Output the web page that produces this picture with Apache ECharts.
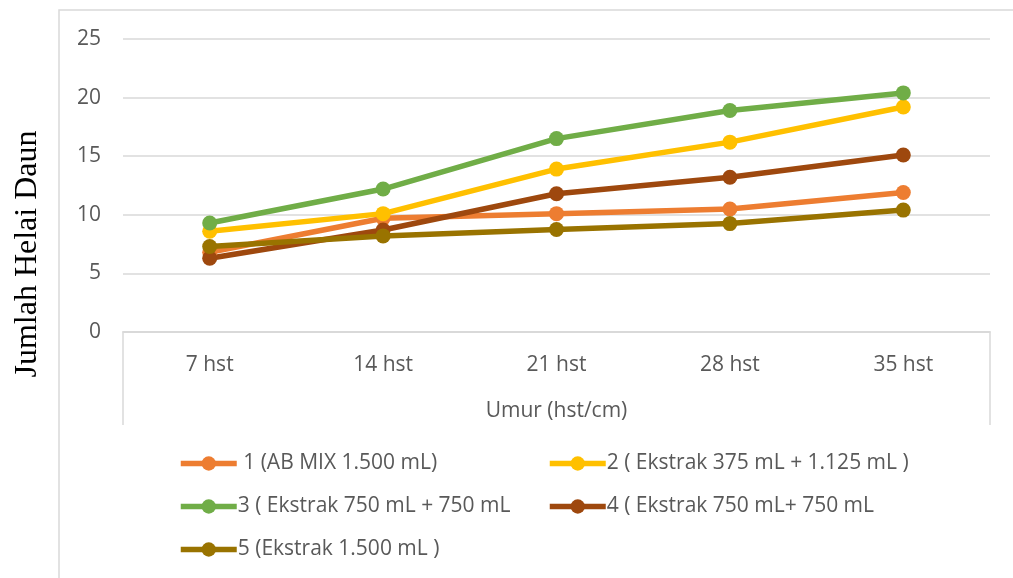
<!DOCTYPE html>
<html>
<head>
<meta charset="utf-8">
<script src="https://cdn.jsdelivr.net/npm/echarts@6/dist/echarts.min.js"></script>
<style>
  html, body { margin: 0; padding: 0; background: #fff; }
  #chart { width: 1013px; height: 578px; }
</style>
</head>
<body>
<div id="chart"></div>
<script>
// Leaf count per treatment across plant age
const categories = ['7 hst', '14 hst', '21 hst', '28 hst', '35 hst'];
const seriesNames = [
  ' 1 (AB MIX 1.500 mL)',
  '2 ( Ekstrak 375 mL + 1.125 mL )',
  '3 ( Ekstrak 750 mL + 750 mL',
  '4 ( Ekstrak 750 mL+ 750 mL',
  '5 (Ekstrak 1.500 mL )'
];
const s1 = [6.8, 9.7, 10.1, 10.5, 11.9];
const s2 = [8.6, 10.1, 13.9, 16.2, 19.2];
const s3 = [9.3, 12.2, 16.5, 18.9, 20.4];
const s4 = [6.3, 8.7, 11.8, 13.2, 15.1];
const s5 = [7.3, 8.2, 8.75, 9.25, 10.4];
const seriesValues = [s1, s2, s3, s4, s5];
const colors = ['#ED7D31', '#FFC000', '#70AD47', '#9E480E', '#997300'];
const yTitle = 'Jumlah Helai Daun';
const xTitle = 'Umur (hst/cm)';

const W = 1013, H = 578;
const GRID = { left: 123, right: 23, top: 39, bottom: 246 };
const axisBottom = H - GRID.bottom;
const boxBottom = 425;
const gray = '#d9d9d9';
const textColor = '#595959';
const uiFont = '"Open Sans", sans-serif';

const chart = echarts.init(document.getElementById('chart'), null, { renderer: 'canvas' });

const series = seriesValues.map((vals, i) => ({
  name: seriesNames[i],
  type: 'line',
  data: vals,
  symbol: 'circle',
  symbolSize: 15,
  color: colors[i],
  lineStyle: { width: 5.5, color: colors[i] },
  itemStyle: { color: colors[i] },
  emphasis: { disabled: true },
  animation: false
}));

const legendCommon = {
  orient: 'vertical',
  padding: 0,
  itemWidth: 56,
  itemHeight: 18,
  itemGap: 22,
  lineStyle: { width: 5.5 },
  textStyle: { fontFamily: uiFont, fontSize: 21, color: textColor, padding: [0, 0, 0, -4] },
  selectedMode: false
};

chart.setOption({
  backgroundColor: '#fff',
  animation: false,
  grid: GRID,
  legend: [
    Object.assign({}, legendCommon, { left: 178, top: 453, data: [seriesNames[0], seriesNames[2], seriesNames[4]] }),
    Object.assign({}, legendCommon, { left: 547, top: 453, data: [seriesNames[1], seriesNames[3]] })
  ],
  xAxis: {
    type: 'category',
    data: categories,
    boundaryGap: true,
    axisLine: { show: true, lineStyle: { color: gray, width: 1.5 } },
    axisTick: { show: false },
    axisLabel: { color: textColor, fontFamily: uiFont, fontSize: 21, margin: 23 },
    name: xTitle,
    nameLocation: 'middle',
    nameGap: 69,
    nameTextStyle: { color: textColor, fontFamily: uiFont, fontSize: 21 }
  },
  yAxis: {
    type: 'value',
    min: 0,
    max: 25,
    interval: 5,
    axisLine: { show: false },
    axisTick: { show: false },
    splitLine: { lineStyle: { color: gray, width: 1.5 } },
    axisLabel: { color: textColor, fontFamily: uiFont, fontSize: 21, margin: 22 }
  },
  graphic: [
    {
      type: 'rect',
      silent: true,
      shape: { x: 59, y: 10, width: W, height: H },
      style: { fill: 'none', stroke: gray, lineWidth: 1.5 }
    },
    {
      type: 'polyline',
      silent: true,
      shape: {
        points: [
          [GRID.left, boxBottom],
          [GRID.left, axisBottom],
          [W - GRID.right, axisBottom],
          [W - GRID.right, boxBottom]
        ]
      },
      style: { fill: 'none', stroke: gray, lineWidth: 1.5 }
    },
    {
      type: 'text',
      silent: true,
      x: 28,
      y: 254,
      rotation: Math.PI / 2,
      style: {
        text: yTitle,
        fontFamily: '"Liberation Serif", "Times New Roman", serif',
        fontSize: 32,
        fill: '#000',
        textAlign: 'center',
        textVerticalAlign: 'middle'
      }
    }
  ],
  series: series
});
</script>
</body>
</html>
